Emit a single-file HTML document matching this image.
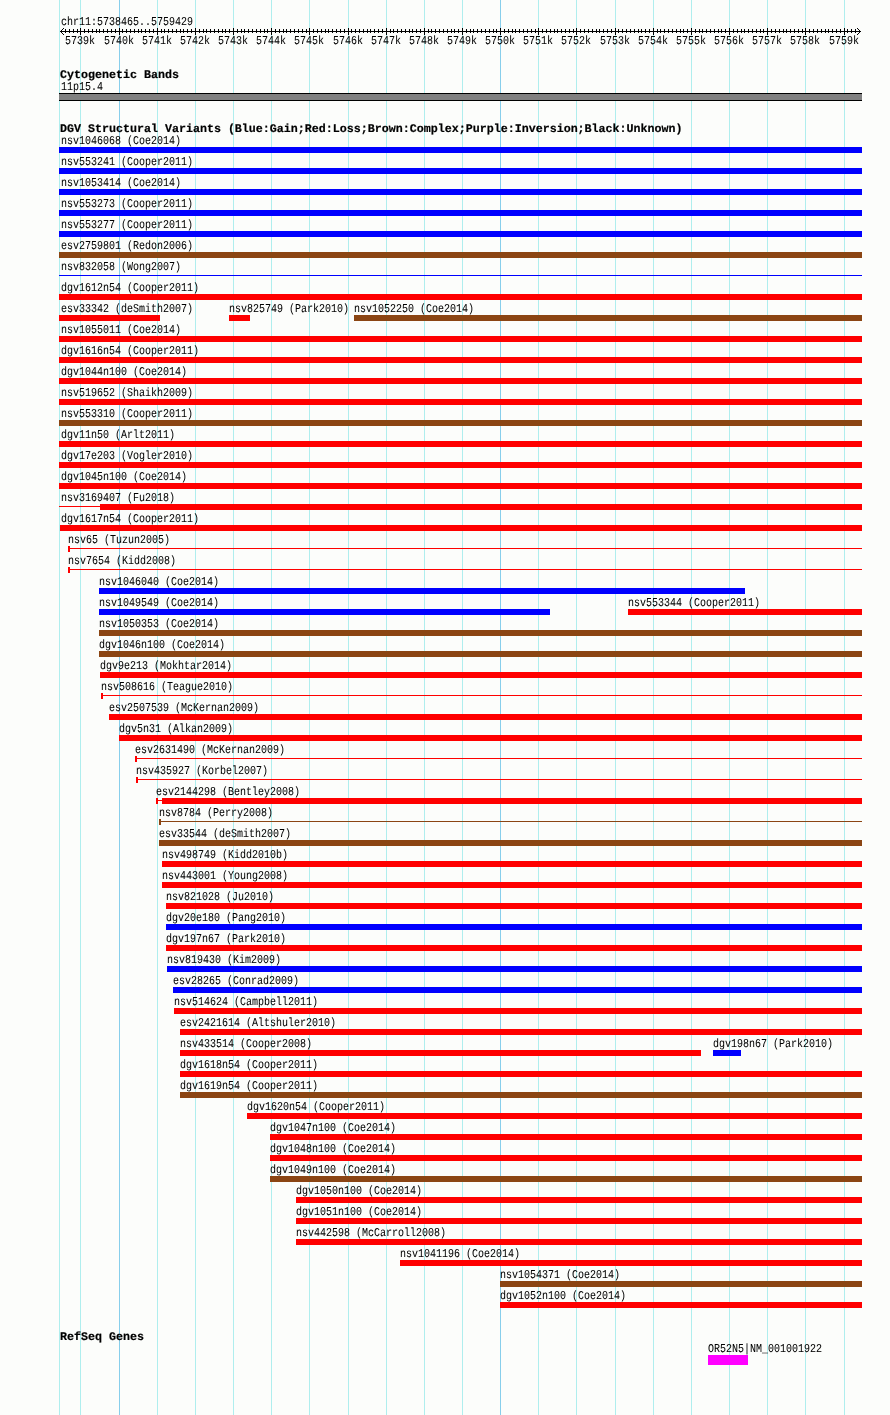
<!DOCTYPE html>
<html lang="en">
<head>
<meta charset="utf-8">
<title>chr11:5738465..5759429 - DGV Structural Variants</title>
<style>
html,body{margin:0;padding:0;background:#fcfdfb;}
body{width:890px;height:1415px;position:relative;overflow:hidden;}
#panel{position:absolute;left:0;top:0;}
#labels{position:absolute;left:0;top:0;width:890px;height:1415px;will-change:transform;}
.s,.m{position:absolute;white-space:pre;height:13px;line-height:13px;color:#000;font-family:"Liberation Mono",monospace;}
.s{font-size:10px;font-weight:normal;text-rendering:geometricPrecision;transform:translateY(1px) scaleY(1.2);transform-origin:0 9.2px;-webkit-text-stroke:0.05px #000;}
.m{font-size:11.667px;font-weight:bold;text-rendering:geometricPrecision;-webkit-text-stroke:0.2px #000;}
</style>
</head>
<body>
<svg id="panel" width="890" height="1415" viewBox="0 0 890 1415" shape-rendering="crispEdges">
<g><rect x="59" width="1" height="1415" fill="#afeeee"/><rect x="80" width="1" height="1415" fill="#afeeee"/><rect x="157" width="1" height="1415" fill="#afeeee"/><rect x="195" width="1" height="1415" fill="#afeeee"/><rect x="233" width="1" height="1415" fill="#afeeee"/><rect x="271" width="1" height="1415" fill="#afeeee"/><rect x="309" width="1" height="1415" fill="#afeeee"/><rect x="348" width="1" height="1415" fill="#afeeee"/><rect x="386" width="1" height="1415" fill="#afeeee"/><rect x="424" width="1" height="1415" fill="#afeeee"/><rect x="462" width="1" height="1415" fill="#afeeee"/><rect x="538" width="1" height="1415" fill="#afeeee"/><rect x="576" width="1" height="1415" fill="#afeeee"/><rect x="615" width="1" height="1415" fill="#afeeee"/><rect x="653" width="1" height="1415" fill="#afeeee"/><rect x="691" width="1" height="1415" fill="#afeeee"/><rect x="729" width="1" height="1415" fill="#afeeee"/><rect x="767" width="1" height="1415" fill="#afeeee"/><rect x="805" width="1" height="1415" fill="#afeeee"/><rect x="844" width="1" height="1415" fill="#afeeee"/><rect x="119" width="1" height="1415" fill="#87ceeb"/><rect x="500" width="1" height="1415" fill="#87ceeb"/></g>
<path fill="#000" d="M60 31h801v1h-801zM65 29h1v4h-1zM69 29h1v4h-1zM73 29h1v4h-1zM77 29h1v4h-1zM84 29h1v4h-1zM88 29h1v4h-1zM92 29h1v4h-1zM96 29h1v4h-1zM99 29h1v4h-1zM103 29h1v4h-1zM107 29h1v4h-1zM111 29h1v4h-1zM115 29h1v4h-1zM122 29h1v4h-1zM126 29h1v4h-1zM130 29h1v4h-1zM134 29h1v4h-1zM138 29h1v4h-1zM141 29h1v4h-1zM145 29h1v4h-1zM149 29h1v4h-1zM153 29h1v4h-1zM161 29h1v4h-1zM164 29h1v4h-1zM168 29h1v4h-1zM172 29h1v4h-1zM176 29h1v4h-1zM180 29h1v4h-1zM183 29h1v4h-1zM187 29h1v4h-1zM191 29h1v4h-1zM199 29h1v4h-1zM203 29h1v4h-1zM206 29h1v4h-1zM210 29h1v4h-1zM214 29h1v4h-1zM218 29h1v4h-1zM222 29h1v4h-1zM225 29h1v4h-1zM229 29h1v4h-1zM237 29h1v4h-1zM241 29h1v4h-1zM244 29h1v4h-1zM248 29h1v4h-1zM252 29h1v4h-1zM256 29h1v4h-1zM260 29h1v4h-1zM264 29h1v4h-1zM267 29h1v4h-1zM275 29h1v4h-1zM279 29h1v4h-1zM283 29h1v4h-1zM286 29h1v4h-1zM290 29h1v4h-1zM294 29h1v4h-1zM298 29h1v4h-1zM302 29h1v4h-1zM306 29h1v4h-1zM313 29h1v4h-1zM317 29h1v4h-1zM321 29h1v4h-1zM325 29h1v4h-1zM328 29h1v4h-1zM332 29h1v4h-1zM336 29h1v4h-1zM340 29h1v4h-1zM344 29h1v4h-1zM351 29h1v4h-1zM355 29h1v4h-1zM359 29h1v4h-1zM363 29h1v4h-1zM367 29h1v4h-1zM370 29h1v4h-1zM374 29h1v4h-1zM378 29h1v4h-1zM382 29h1v4h-1zM390 29h1v4h-1zM393 29h1v4h-1zM397 29h1v4h-1zM401 29h1v4h-1zM405 29h1v4h-1zM409 29h1v4h-1zM412 29h1v4h-1zM416 29h1v4h-1zM420 29h1v4h-1zM428 29h1v4h-1zM431 29h1v4h-1zM435 29h1v4h-1zM439 29h1v4h-1zM443 29h1v4h-1zM447 29h1v4h-1zM451 29h1v4h-1zM454 29h1v4h-1zM458 29h1v4h-1zM466 29h1v4h-1zM470 29h1v4h-1zM473 29h1v4h-1zM477 29h1v4h-1zM481 29h1v4h-1zM485 29h1v4h-1zM489 29h1v4h-1zM493 29h1v4h-1zM496 29h1v4h-1zM504 29h1v4h-1zM508 29h1v4h-1zM512 29h1v4h-1zM515 29h1v4h-1zM519 29h1v4h-1zM523 29h1v4h-1zM527 29h1v4h-1zM531 29h1v4h-1zM535 29h1v4h-1zM542 29h1v4h-1zM546 29h1v4h-1zM550 29h1v4h-1zM554 29h1v4h-1zM557 29h1v4h-1zM561 29h1v4h-1zM565 29h1v4h-1zM569 29h1v4h-1zM573 29h1v4h-1zM580 29h1v4h-1zM584 29h1v4h-1zM588 29h1v4h-1zM592 29h1v4h-1zM596 29h1v4h-1zM599 29h1v4h-1zM603 29h1v4h-1zM607 29h1v4h-1zM611 29h1v4h-1zM618 29h1v4h-1zM622 29h1v4h-1zM626 29h1v4h-1zM630 29h1v4h-1zM634 29h1v4h-1zM638 29h1v4h-1zM641 29h1v4h-1zM645 29h1v4h-1zM649 29h1v4h-1zM657 29h1v4h-1zM660 29h1v4h-1zM664 29h1v4h-1zM668 29h1v4h-1zM672 29h1v4h-1zM676 29h1v4h-1zM680 29h1v4h-1zM683 29h1v4h-1zM687 29h1v4h-1zM695 29h1v4h-1zM699 29h1v4h-1zM702 29h1v4h-1zM706 29h1v4h-1zM710 29h1v4h-1zM714 29h1v4h-1zM718 29h1v4h-1zM721 29h1v4h-1zM725 29h1v4h-1zM733 29h1v4h-1zM737 29h1v4h-1zM741 29h1v4h-1zM744 29h1v4h-1zM748 29h1v4h-1zM752 29h1v4h-1zM756 29h1v4h-1zM760 29h1v4h-1zM763 29h1v4h-1zM771 29h1v4h-1zM775 29h1v4h-1zM779 29h1v4h-1zM783 29h1v4h-1zM786 29h1v4h-1zM790 29h1v4h-1zM794 29h1v4h-1zM798 29h1v4h-1zM802 29h1v4h-1zM809 29h1v4h-1zM813 29h1v4h-1zM817 29h1v4h-1zM821 29h1v4h-1zM825 29h1v4h-1zM828 29h1v4h-1zM832 29h1v4h-1zM836 29h1v4h-1zM840 29h1v4h-1zM847 29h1v4h-1zM851 29h1v4h-1zM855 29h1v4h-1zM80 28h1v7h-1zM119 28h1v7h-1zM157 28h1v7h-1zM195 28h1v7h-1zM233 28h1v7h-1zM271 28h1v7h-1zM309 28h1v7h-1zM348 28h1v7h-1zM386 28h1v7h-1zM424 28h1v7h-1zM462 28h1v7h-1zM500 28h1v7h-1zM538 28h1v7h-1zM576 28h1v7h-1zM615 28h1v7h-1zM653 28h1v7h-1zM691 28h1v7h-1zM729 28h1v7h-1zM767 28h1v7h-1zM805 28h1v7h-1zM844 28h1v7h-1zM61 30h1v1h-1zM61 32h1v1h-1zM859 30h1v1h-1zM859 32h1v1h-1zM62 29h1v1h-1zM62 33h1v1h-1zM858 29h1v1h-1zM858 33h1v1h-1zM63 28h1v1h-1zM63 34h1v1h-1zM857 28h1v1h-1zM857 34h1v1h-1z"/>
<rect x="59" y="93" width="803" height="8" fill="#000"/><rect x="59" y="94" width="803" height="6" fill="#808080"/>
<g><rect x="59" y="147" width="803" height="6" fill="#0000ff"/>
<rect x="59" y="168" width="803" height="6" fill="#0000ff"/>
<rect x="59" y="189" width="803" height="6" fill="#0000ff"/>
<rect x="59" y="210" width="803" height="6" fill="#0000ff"/>
<rect x="59" y="231" width="803" height="6" fill="#0000ff"/>
<rect x="59" y="252" width="803" height="6" fill="#8b4513"/>
<rect x="59" y="275" width="803" height="1" fill="#0000ff"/>
<rect x="59" y="294" width="803" height="6" fill="#ff0000"/>
<rect x="59" y="315" width="101" height="6" fill="#ff0000"/>
<rect x="229" y="315" width="21" height="6" fill="#ff0000"/>
<rect x="354" y="315" width="508" height="6" fill="#8b4513"/>
<rect x="59" y="336" width="803" height="6" fill="#ff0000"/>
<rect x="59" y="357" width="803" height="6" fill="#ff0000"/>
<rect x="59" y="378" width="803" height="6" fill="#ff0000"/>
<rect x="59" y="399" width="803" height="6" fill="#ff0000"/>
<rect x="59" y="420" width="803" height="6" fill="#8b4513"/>
<rect x="59" y="441" width="803" height="6" fill="#ff0000"/>
<rect x="59" y="462" width="803" height="6" fill="#ff0000"/>
<rect x="59" y="483" width="803" height="6" fill="#ff0000"/>
<rect x="59" y="506" width="41" height="1" fill="#ff0000"/>
<rect x="100" y="504" width="762" height="6" fill="#ff0000"/>
<rect x="60" y="525" width="802" height="6" fill="#ff0000"/>
<rect x="68" y="546" width="2" height="6" fill="#ff0000"/>
<rect x="70" y="548" width="792" height="1" fill="#ff0000"/>
<rect x="68" y="567" width="2" height="6" fill="#ff0000"/>
<rect x="70" y="569" width="792" height="1" fill="#ff0000"/>
<rect x="99" y="588" width="646" height="6" fill="#0000ff"/>
<rect x="99" y="609" width="451" height="6" fill="#0000ff"/>
<rect x="628" y="609" width="234" height="6" fill="#ff0000"/>
<rect x="99" y="630" width="763" height="6" fill="#8b4513"/>
<rect x="99" y="651" width="763" height="6" fill="#8b4513"/>
<rect x="100" y="672" width="762" height="6" fill="#ff0000"/>
<rect x="101" y="693" width="2" height="6" fill="#ff0000"/>
<rect x="103" y="695" width="759" height="1" fill="#ff0000"/>
<rect x="109" y="714" width="753" height="6" fill="#ff0000"/>
<rect x="119" y="735" width="743" height="6" fill="#ff0000"/>
<rect x="135" y="756" width="2" height="6" fill="#ff0000"/>
<rect x="137" y="758" width="725" height="1" fill="#ff0000"/>
<rect x="136" y="777" width="2" height="6" fill="#ff0000"/>
<rect x="138" y="779" width="724" height="1" fill="#ff0000"/>
<rect x="156" y="798" width="2" height="6" fill="#ff0000"/>
<rect x="158" y="800" width="4" height="1" fill="#ff0000"/>
<rect x="162" y="798" width="700" height="6" fill="#ff0000"/>
<rect x="159" y="819" width="2" height="6" fill="#8b4513"/>
<rect x="161" y="821" width="701" height="1" fill="#8b4513"/>
<rect x="159" y="840" width="703" height="6" fill="#8b4513"/>
<rect x="162" y="861" width="700" height="6" fill="#ff0000"/>
<rect x="162" y="882" width="700" height="6" fill="#ff0000"/>
<rect x="166" y="903" width="696" height="6" fill="#ff0000"/>
<rect x="166" y="924" width="696" height="6" fill="#0000ff"/>
<rect x="166" y="945" width="696" height="6" fill="#ff0000"/>
<rect x="167" y="966" width="695" height="6" fill="#0000ff"/>
<rect x="173" y="987" width="689" height="6" fill="#0000ff"/>
<rect x="174" y="1008" width="688" height="6" fill="#ff0000"/>
<rect x="180" y="1029" width="682" height="6" fill="#ff0000"/>
<rect x="180" y="1050" width="521" height="6" fill="#ff0000"/>
<rect x="713" y="1050" width="28" height="6" fill="#0000ff"/>
<rect x="180" y="1071" width="682" height="6" fill="#ff0000"/>
<rect x="180" y="1092" width="682" height="6" fill="#8b4513"/>
<rect x="247" y="1113" width="615" height="6" fill="#ff0000"/>
<rect x="270" y="1134" width="592" height="6" fill="#ff0000"/>
<rect x="270" y="1155" width="592" height="6" fill="#ff0000"/>
<rect x="270" y="1176" width="592" height="6" fill="#8b4513"/>
<rect x="296" y="1197" width="566" height="6" fill="#ff0000"/>
<rect x="296" y="1218" width="566" height="6" fill="#ff0000"/>
<rect x="296" y="1239" width="566" height="6" fill="#ff0000"/>
<rect x="400" y="1260" width="462" height="6" fill="#ff0000"/>
<rect x="500" y="1281" width="362" height="6" fill="#8b4513"/>
<rect x="500" y="1302" width="362" height="6" fill="#ff0000"/></g>
<rect x="708" y="1355" width="40" height="10" fill="#f0f"/>
</svg>
<div id="labels">
<div class="s" style="left:61px;top:16px">chr11:5738465..5759429</div>
<div class="s" style="left:65px;top:35px">5739k</div>
<div class="s" style="left:104px;top:35px">5740k</div>
<div class="s" style="left:142px;top:35px">5741k</div>
<div class="s" style="left:180px;top:35px">5742k</div>
<div class="s" style="left:218px;top:35px">5743k</div>
<div class="s" style="left:256px;top:35px">5744k</div>
<div class="s" style="left:294px;top:35px">5745k</div>
<div class="s" style="left:333px;top:35px">5746k</div>
<div class="s" style="left:371px;top:35px">5747k</div>
<div class="s" style="left:409px;top:35px">5748k</div>
<div class="s" style="left:447px;top:35px">5749k</div>
<div class="s" style="left:485px;top:35px">5750k</div>
<div class="s" style="left:523px;top:35px">5751k</div>
<div class="s" style="left:561px;top:35px">5752k</div>
<div class="s" style="left:600px;top:35px">5753k</div>
<div class="s" style="left:638px;top:35px">5754k</div>
<div class="s" style="left:676px;top:35px">5755k</div>
<div class="s" style="left:714px;top:35px">5756k</div>
<div class="s" style="left:752px;top:35px">5757k</div>
<div class="s" style="left:790px;top:35px">5758k</div>
<div class="s" style="left:829px;top:35px">5759k</div>
<div class="m" style="left:60px;top:69px">Cytogenetic Bands</div>
<div class="s" style="left:61px;top:81px">11p15.4</div>
<div class="m" style="left:60px;top:123px">DGV Structural Variants (Blue:Gain;Red:Loss;Brown:Complex;Purple:Inversion;Black:Unknown)</div>
<div class="m" style="left:60px;top:1331px">RefSeq Genes</div>
<div class="s" style="left:708px;top:1343px">OR52N5|NM_001001922</div>
<div class="s" style="left:61px;top:135px">nsv1046068 (Coe2014)</div>
<div class="s" style="left:61px;top:156px">nsv553241 (Cooper2011)</div>
<div class="s" style="left:61px;top:177px">nsv1053414 (Coe2014)</div>
<div class="s" style="left:61px;top:198px">nsv553273 (Cooper2011)</div>
<div class="s" style="left:61px;top:219px">nsv553277 (Cooper2011)</div>
<div class="s" style="left:61px;top:240px">esv2759801 (Redon2006)</div>
<div class="s" style="left:61px;top:261px">nsv832058 (Wong2007)</div>
<div class="s" style="left:61px;top:282px">dgv1612n54 (Cooper2011)</div>
<div class="s" style="left:61px;top:303px">esv33342 (deSmith2007)</div>
<div class="s" style="left:229px;top:303px">nsv825749 (Park2010)</div>
<div class="s" style="left:354px;top:303px">nsv1052250 (Coe2014)</div>
<div class="s" style="left:61px;top:324px">nsv1055011 (Coe2014)</div>
<div class="s" style="left:61px;top:345px">dgv1616n54 (Cooper2011)</div>
<div class="s" style="left:61px;top:366px">dgv1044n100 (Coe2014)</div>
<div class="s" style="left:61px;top:387px">nsv519652 (Shaikh2009)</div>
<div class="s" style="left:61px;top:408px">nsv553310 (Cooper2011)</div>
<div class="s" style="left:61px;top:429px">dgv11n50 (Arlt2011)</div>
<div class="s" style="left:61px;top:450px">dgv17e203 (Vogler2010)</div>
<div class="s" style="left:61px;top:471px">dgv1045n100 (Coe2014)</div>
<div class="s" style="left:61px;top:492px">nsv3169407 (Fu2018)</div>
<div class="s" style="left:61px;top:513px">dgv1617n54 (Cooper2011)</div>
<div class="s" style="left:68px;top:534px">nsv65 (Tuzun2005)</div>
<div class="s" style="left:68px;top:555px">nsv7654 (Kidd2008)</div>
<div class="s" style="left:99px;top:576px">nsv1046040 (Coe2014)</div>
<div class="s" style="left:99px;top:597px">nsv1049549 (Coe2014)</div>
<div class="s" style="left:628px;top:597px">nsv553344 (Cooper2011)</div>
<div class="s" style="left:99px;top:618px">nsv1050353 (Coe2014)</div>
<div class="s" style="left:99px;top:639px">dgv1046n100 (Coe2014)</div>
<div class="s" style="left:100px;top:660px">dgv9e213 (Mokhtar2014)</div>
<div class="s" style="left:101px;top:681px">nsv508616 (Teague2010)</div>
<div class="s" style="left:109px;top:702px">esv2507539 (McKernan2009)</div>
<div class="s" style="left:119px;top:723px">dgv5n31 (Alkan2009)</div>
<div class="s" style="left:135px;top:744px">esv2631490 (McKernan2009)</div>
<div class="s" style="left:136px;top:765px">nsv435927 (Korbel2007)</div>
<div class="s" style="left:156px;top:786px">esv2144298 (Bentley2008)</div>
<div class="s" style="left:159px;top:807px">nsv8784 (Perry2008)</div>
<div class="s" style="left:159px;top:828px">esv33544 (deSmith2007)</div>
<div class="s" style="left:162px;top:849px">nsv498749 (Kidd2010b)</div>
<div class="s" style="left:162px;top:870px">nsv443001 (Young2008)</div>
<div class="s" style="left:166px;top:891px">nsv821028 (Ju2010)</div>
<div class="s" style="left:166px;top:912px">dgv20e180 (Pang2010)</div>
<div class="s" style="left:166px;top:933px">dgv197n67 (Park2010)</div>
<div class="s" style="left:167px;top:954px">nsv819430 (Kim2009)</div>
<div class="s" style="left:173px;top:975px">esv28265 (Conrad2009)</div>
<div class="s" style="left:174px;top:996px">nsv514624 (Campbell2011)</div>
<div class="s" style="left:180px;top:1017px">esv2421614 (Altshuler2010)</div>
<div class="s" style="left:180px;top:1038px">nsv433514 (Cooper2008)</div>
<div class="s" style="left:713px;top:1038px">dgv198n67 (Park2010)</div>
<div class="s" style="left:180px;top:1059px">dgv1618n54 (Cooper2011)</div>
<div class="s" style="left:180px;top:1080px">dgv1619n54 (Cooper2011)</div>
<div class="s" style="left:247px;top:1101px">dgv1620n54 (Cooper2011)</div>
<div class="s" style="left:270px;top:1122px">dgv1047n100 (Coe2014)</div>
<div class="s" style="left:270px;top:1143px">dgv1048n100 (Coe2014)</div>
<div class="s" style="left:270px;top:1164px">dgv1049n100 (Coe2014)</div>
<div class="s" style="left:296px;top:1185px">dgv1050n100 (Coe2014)</div>
<div class="s" style="left:296px;top:1206px">dgv1051n100 (Coe2014)</div>
<div class="s" style="left:296px;top:1227px">nsv442598 (McCarroll2008)</div>
<div class="s" style="left:400px;top:1248px">nsv1041196 (Coe2014)</div>
<div class="s" style="left:500px;top:1269px">nsv1054371 (Coe2014)</div>
<div class="s" style="left:500px;top:1290px">dgv1052n100 (Coe2014)</div>
</div>
</body>
</html>
